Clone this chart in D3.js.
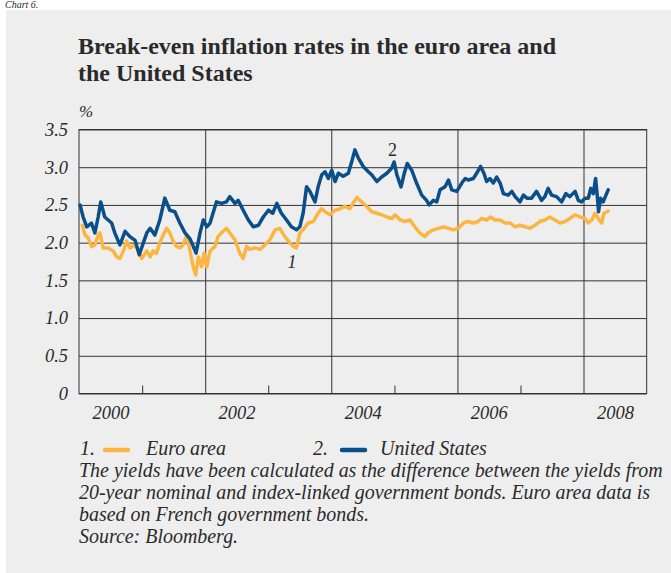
<!DOCTYPE html>
<html><head><meta charset="utf-8">
<script src="https://cdn.jsdelivr.net/npm/d3@7"></script>
<style>
body{margin:0;background:#fff}
svg{display:block}
text{font-family:"Liberation Serif","Times New Roman",serif;fill:#2a2a2a}
</style>
</head><body>
<svg id="chart" width="671" height="573"></svg>
<script>
// Break-even inflation rates, % (20-year nominal minus index-linked bond yields)
const usDates = [
  "2000-01-07","2000-01-25","2000-02-15","2000-03-13","2000-04-02","2000-04-21","2000-05-06","2000-05-29","2000-06-18","2000-07-08","2000-07-26","2000-08-25","2000-09-24","2000-10-22","2000-11-21","2000-12-15",
  "2001-01-08","2001-01-28","2001-02-16","2001-03-15","2001-04-13","2001-05-12","2001-06-10","2001-07-09","2001-08-07","2001-09-06","2001-10-05","2001-10-24","2001-11-09","2001-12-02","2001-12-21",
  "2002-01-10","2002-01-29","2002-03-07","2002-04-06","2002-05-04","2002-05-23","2002-06-22","2002-07-11","2002-08-09","2002-09-08","2002-10-06","2002-11-05","2002-12-03",
  "2003-01-02","2003-01-27","2003-02-20","2003-03-18","2003-04-17","2003-05-15","2003-06-14","2003-07-03","2003-07-22","2003-08-11","2003-08-30","2003-09-29","2003-10-17","2003-11-07","2003-11-26","2003-12-15",
  "2004-01-04","2004-01-23","2004-02-11","2004-03-10","2004-04-09","2004-04-28","2004-05-17","2004-06-06","2004-07-04","2004-08-03","2004-08-22","2004-09-21","2004-10-19","2004-11-18","2004-12-17","2004-12-30",
  "2005-01-15","2005-02-08","2005-02-27","2005-03-16","2005-04-11","2005-05-09","2005-06-08","2005-07-06","2005-07-21","2005-08-14","2005-09-03","2005-09-22","2005-10-21","2005-11-10","2005-11-29","2005-12-28",
  "2006-01-26","2006-02-15","2006-03-04","2006-04-03","2006-04-22","2006-05-15","2006-06-03","2006-06-19","2006-07-08","2006-07-27","2006-08-16","2006-09-05","2006-09-24","2006-10-22","2006-11-12","2006-12-01","2006-12-29",
  "2007-01-18","2007-02-07","2007-03-06","2007-04-04","2007-05-03","2007-05-22","2007-06-10","2007-06-30","2007-07-29","2007-08-27","2007-09-21","2007-10-14","2007-11-13","2007-12-02","2007-12-21",
  "2008-01-10","2008-01-29","2008-02-12","2008-02-27","2008-03-11","2008-03-22","2008-03-28","2008-04-09","2008-04-24","2008-05-10","2008-05-23"
];
const usValues = [
  2.50,2.34,2.21,2.26,2.13,2.34,2.54,2.34,2.30,2.26,2.13,1.97,2.15,2.08,2.03,1.84,
  2.00,2.13,2.19,2.10,2.30,2.59,2.43,2.41,2.26,2.13,2.05,1.95,1.86,2.13,2.30,
  2.21,2.26,2.54,2.52,2.54,2.61,2.52,2.56,2.43,2.30,2.21,2.23,2.34,
  2.43,2.39,2.52,2.39,2.30,2.21,2.17,2.21,2.39,2.74,2.68,2.54,2.74,2.90,2.94,2.85,
  2.96,2.81,2.92,2.88,2.92,3.07,3.23,3.12,3.01,2.94,2.90,2.81,2.87,2.92,2.99,3.07,
  2.90,2.74,2.92,3.05,2.96,2.79,2.63,2.56,2.50,2.56,2.54,2.70,2.74,2.83,2.70,2.68,
  2.79,2.85,2.83,2.85,2.92,3.01,2.92,2.81,2.85,2.79,2.87,2.79,2.65,2.63,2.68,2.61,2.54,
  2.63,2.59,2.59,2.68,2.56,2.61,2.72,2.63,2.61,2.54,2.65,2.61,2.68,2.56,2.54,
  2.59,2.59,2.72,2.65,2.85,2.59,2.41,2.59,2.54,2.63,2.70
];
const euroDates = [
  "2000-01-20","2000-02-05","2000-02-24","2000-03-13","2000-04-02","2000-04-21","2000-05-01","2000-05-20","2000-06-18","2000-07-17","2000-08-06","2000-08-25","2000-09-14","2000-10-03","2000-10-22","2000-11-21","2000-12-10","2000-12-29",
  "2001-01-28","2001-02-16","2001-03-05","2001-03-25","2001-04-13","2001-05-02","2001-05-22","2001-06-10","2001-06-29","2001-07-19","2001-08-07","2001-08-26","2001-09-16","2001-10-05","2001-10-24","2001-11-07","2001-11-22","2001-12-11","2001-12-25",
  "2002-01-10","2002-01-29","2002-02-27","2002-03-16","2002-04-06","2002-05-04","2002-05-23","2002-06-22","2002-07-20","2002-08-09","2002-08-29","2002-09-17","2002-10-16","2002-11-14","2002-12-13",
  "2003-01-11","2003-02-10","2003-03-09","2003-04-07","2003-05-06","2003-05-25","2003-06-14","2003-07-03","2003-07-22","2003-08-20","2003-09-19","2003-10-17","2003-11-07","2003-11-26","2003-12-24",
  "2004-01-23","2004-02-21","2004-03-20","2004-04-18","2004-05-11","2004-05-30","2004-06-25","2004-07-24","2004-08-22","2004-09-21","2004-10-19","2004-11-18","2004-12-17",
  "2005-01-05","2005-02-04","2005-03-02","2005-04-01","2005-04-29","2005-05-28","2005-06-26","2005-07-15","2005-08-14","2005-09-13","2005-10-11","2005-11-10","2005-12-08",
  "2006-01-07","2006-02-05","2006-03-04","2006-04-03","2006-05-01","2006-05-20","2006-06-19","2006-07-12","2006-08-06","2006-09-05","2006-10-03","2006-11-02","2006-12-01","2006-12-29",
  "2007-01-28","2007-02-26","2007-03-25","2007-04-23","2007-05-22","2007-06-20","2007-07-19","2007-08-18","2007-09-16","2007-10-14","2007-11-13","2007-12-12",
  "2008-01-10","2008-01-29","2008-02-18","2008-03-07","2008-03-26","2008-04-15","2008-04-28","2008-05-23"
];
const euroValues = [
  2.23,2.10,2.06,1.95,1.97,2.10,2.13,1.93,1.93,1.89,1.81,1.79,1.89,2.02,1.93,1.97,1.89,1.79,
  1.89,1.81,1.89,1.86,2.00,2.10,2.19,2.13,2.02,1.95,1.93,1.97,2.10,1.89,1.68,1.57,1.81,1.68,1.86,
  1.68,1.89,1.95,2.08,2.13,2.19,2.13,2.04,1.86,1.79,1.95,1.91,1.93,1.91,1.97,
  2.04,2.17,2.19,2.08,2.00,1.95,1.93,2.13,2.17,2.26,2.28,2.39,2.45,2.41,2.37,
  2.43,2.45,2.48,2.45,2.54,2.60,2.54,2.48,2.41,2.39,2.37,2.34,2.32,
  2.37,2.30,2.28,2.30,2.21,2.13,2.08,2.13,2.17,2.19,2.21,2.19,2.17,
  2.19,2.26,2.28,2.26,2.28,2.32,2.30,2.34,2.30,2.30,2.26,2.26,2.21,2.23,
  2.21,2.19,2.23,2.28,2.30,2.34,2.30,2.26,2.28,2.32,2.37,2.34,
  2.32,2.26,2.30,2.39,2.32,2.26,2.39,2.42
];

const yTicks = [0, 0.5, 1.0, 1.5, 2.0, 2.5, 3.0, 3.5];
const yearLabels = ["2000", "2002", "2004", "2006", "2008"];
const gridYears = ["2002", "2004", "2006", "2008"];
const minorYears = ["2001", "2003", "2005", "2007"];

const titleLines = ["Break-even inflation rates in the euro area and", "the United States"];
const seriesNames = ["Euro area", "United States"];
const noteLines = [
  "The yields have been calculated as the difference between the yields from",
  "20-year nominal and index-linked government bonds. Euro area data is",
  "based on French government bonds.",
  "Source: Bloomberg."
];

const EURO_COLOR = "#fbb641";
const US_COLOR = "#0b4f8a";
const GRID = "#333";

const svg = d3.select("#chart");
const parse = d3.utcParse("%Y-%m-%d");
const yearDate = y => new Date(Date.UTC(+y, 0, 1));
const midYear = y => new Date(Date.UTC(+y, 6, 1));

const plot = {left: 79, right: 646.7, top: 129.5, bottom: 393.5};
const x = d3.scaleUtc()
  .domain([yearDate("2000"), yearDate("2009")])
  .range([plot.left, plot.right]);
const y = d3.scaleLinear().domain([0, 3.5]).range([plot.bottom, plot.top]);

// Panel background and the chart number above it
svg.append("rect").attr("x", 0).attr("y", 0).attr("width", 671).attr("height", 573).attr("fill", "#fff");
svg.append("text").attr("x", 5).attr("y", 8).style("font-style", "italic").style("font-size", "10px").attr("fill", "#333").text("Chart 6.");
svg.append("rect").attr("x", 6).attr("y", 10).attr("width", 665).attr("height", 563).attr("fill", "#eeeeee");

// Title
function fitWidth(sel, target) {
  const w = sel.node().getComputedTextLength();
  const fs = parseFloat(sel.style("font-size"));
  const nfs = fs * target / w;
  sel.style("font-size", nfs + "px");
  return nfs;
}
const t1 = svg.append("text").attr("x", 78).attr("y", 54)
  .style("font-weight", "bold").style("font-size", "21px").text(titleLines[0]);
const titleSize = fitWidth(t1, 478);
svg.append("text").attr("x", 78).attr("y", 81)
  .style("font-weight", "bold").style("font-size", titleSize + "px").text(titleLines[1]);

svg.append("text").attr("x", 79).attr("y", 117).style("font-style", "italic").style("font-size", "17px").text("%");

// Horizontal gridlines and y labels
const yAxis = svg.append("g").attr("transform", `translate(${plot.left},0)`)
  .call(d3.axisLeft(y).tickValues(yTicks).tickSize(-(plot.right - plot.left)).tickPadding(11)
    .tickFormat(d => d === 0 ? "0" : d3.format(".1f")(d)));
yAxis.select(".domain").remove();
yAxis.selectAll("line").attr("stroke", GRID);
yAxis.selectAll("text").attr("fill", "#2a2a2a").style("font-family", '"Liberation Serif", serif')
  .style("font-style", "italic").style("font-size", "18.5px");

// Vertical gridlines at even years
const xGrid = svg.append("g").attr("transform", `translate(0,${plot.bottom})`)
  .call(d3.axisBottom(x).tickValues(gridYears.map(yearDate)).tickSize(-(plot.bottom - plot.top)).tickFormat(""));
xGrid.select(".domain").remove();
xGrid.selectAll("line").attr("stroke", GRID);

// Minor ticks at odd years
const xMinor = svg.append("g").attr("transform", `translate(0,${plot.bottom})`)
  .call(d3.axisBottom(x).tickValues(minorYears.map(yearDate)).tickSize(-8).tickFormat(""));
xMinor.select(".domain").remove();
xMinor.selectAll("line").attr("stroke", GRID);

// Year labels centred on each year
const xLabels = svg.append("g").attr("transform", `translate(0,${plot.bottom})`)
  .call(d3.axisBottom(x).tickValues(yearLabels.map(midYear)).tickSize(0).tickPadding(12.5)
    .tickFormat(d3.utcFormat("%Y")));
xLabels.select(".domain").remove();
xLabels.selectAll("text").attr("fill", "#2a2a2a").style("font-family", '"Liberation Serif", serif')
  .style("font-style", "italic").style("font-size", "18.5px");

// Frame
svg.append("rect").attr("x", plot.left).attr("y", plot.top)
  .attr("width", plot.right - plot.left).attr("height", plot.bottom - plot.top)
  .attr("fill", "none").attr("stroke", GRID);

// Series
const euro = euroDates.map((d, i) => ({date: parse(d), value: euroValues[i]}));
const us = usDates.map((d, i) => ({date: parse(d), value: usValues[i]}));
const line = d3.line().x(d => x(d.date)).y(d => y(d.value));

svg.append("path").datum(euro).attr("d", line).attr("fill", "none")
  .attr("stroke", EURO_COLOR).attr("stroke-width", 3.5).attr("stroke-linejoin", "round").attr("stroke-linecap", "round");
svg.append("path").datum(us).attr("d", line).attr("fill", "none")
  .attr("stroke", US_COLOR).attr("stroke-width", 3.5).attr("stroke-linejoin", "round").attr("stroke-linecap", "round");

// Series markers in the plot
svg.append("text").attr("x", 292).attr("y", 268).attr("text-anchor", "middle")
  .style("font-style", "italic").style("font-size", "18px").text("1");
svg.append("text").attr("x", 392.5).attr("y", 156).attr("text-anchor", "middle")
  .style("font-size", "18px").text("2");

// Legend
const noteSize = (() => {
  const probe = svg.append("text").attr("x", 79).attr("y", 477)
    .style("font-style", "italic").style("font-size", "18px").text(noteLines[0]);
  return fitWidth(probe, 584);
})();
const legY = 455;
const leg = svg.append("g").style("font-style", "italic").style("font-size", noteSize + "px");
leg.append("text").attr("x", 80).attr("y", legY).text("1.");
leg.append("line").attr("x1", 105).attr("x2", 128).attr("y1", legY - 5).attr("y2", legY - 5)
  .attr("stroke", EURO_COLOR).attr("stroke-width", 4.5).attr("stroke-linecap", "round");
leg.append("text").attr("x", 146).attr("y", legY).text(seriesNames[0]);
leg.append("text").attr("x", 313).attr("y", legY).text("2.");
leg.append("line").attr("x1", 342).attr("x2", 365).attr("y1", legY - 5).attr("y2", legY - 5)
  .attr("stroke", US_COLOR).attr("stroke-width", 4.5).attr("stroke-linecap", "round");
leg.append("text").attr("x", 380).attr("y", legY).text(seriesNames[1]);

// Notes below the legend
noteLines.slice(1).forEach((t, i) => {
  svg.append("text").attr("x", 79).attr("y", 477 + 22 * (i + 1))
    .style("font-style", "italic").style("font-size", noteSize + "px").text(t);
});
</script>
</body></html>
